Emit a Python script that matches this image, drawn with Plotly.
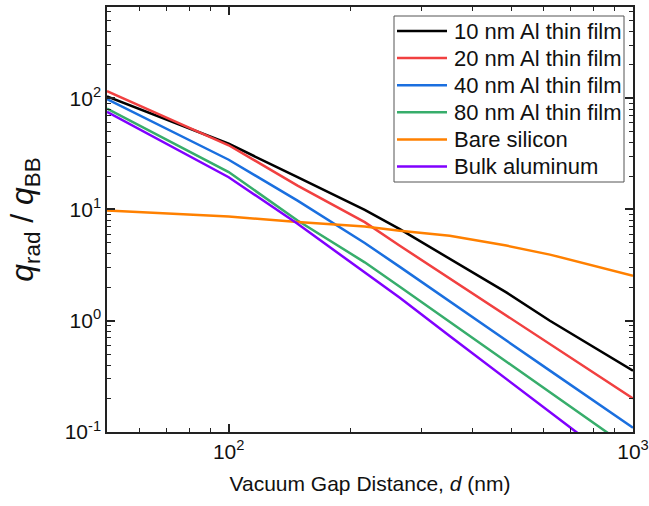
import plotly.graph_objects as go

gap_nm = [50, 100, 148, 217, 265, 352, 486, 623, 1000]

al_10nm = [104, 39.0, 19.5, 9.9, 6.65, 3.6, 1.8, 1.0, 0.355]
al_20nm = [116, 37.8, 16.4, 7.7, 4.72, 2.40, 1.12, 0.617, 0.20]
al_40nm = [98, 28.0, 12.0, 5.0, 3.05, 1.49, 0.67, 0.356, 0.109]
al_80nm = [80.7, 21.7, 7.96, 3.35, 2.02, 0.978, 0.43, 0.228, 0.068]
bare_si = [9.8, 8.65, 7.7, 7.03, 6.45, 5.8, 4.74, 3.93, 2.54]
bulk_al = [75.4, 19.5, 7.43, 2.72, 1.61, 0.73, 0.30, 0.151, 0.041]

series_names = ["10 nm Al thin film", "20 nm Al thin film", "40 nm Al thin film",
                "80 nm Al thin film", "Bare silicon", "Bulk aluminum"]
series_vals = [al_10nm, al_20nm, al_40nm, al_80nm, bare_si, bulk_al]
colors = ["#000000", "#F14040", "#1A6FDF", "#37AD6B", "#FF8000", "#8000FF"]

y_tickvals = [0.1, 1, 10, 100]
y_ticktext = ["10<sup>-1</sup>", "10<sup>0</sup>", "10<sup>1</sup>", "10<sup>2</sup>"]
x_tickvals = [100, 1000]
x_ticktext = ["10<sup>2</sup>", "10<sup>3</sup>"]

x_minor = [60, 70, 80, 90] + [m * 100 for m in range(2, 10)]
y_minor = ([round(m * 0.1, 1) for m in range(2, 10)] + list(range(2, 10))
           + [m * 10 for m in range(2, 10)] + [200, 300, 400, 500, 600])

X_RANGE = [1.69897, 3]
Y_RANGE = [-1, 2.82]

# figure geometry (pixels)
W, H = 649, 506
ML, MR, MT, MB = 107, 16, 7, 74
PW, PH = W - ML - MR, H - MT - MB


def px_x(p):
    return (p - ML) / PW


def px_y(p):
    return (H - MB - p) / PH


fig = go.Figure()
for name, vals, col in zip(series_names, series_vals, colors):
    fig.add_trace(go.Scatter(x=gap_nm, y=vals, mode="lines", name=name,
                             line=dict(color=col, width=2.5), showlegend=False))

# invisible trace binding the minor-tick overlay axes
fig.add_trace(go.Scatter(x=[100], y=[1], xaxis="x2", yaxis="y2", mode="markers",
                         marker=dict(opacity=0), showlegend=False, hoverinfo="skip"))

FONT = "Arial, Liberation Sans, sans-serif"
axis_common = dict(
    showline=True, linecolor="#222", linewidth=1.5, mirror="ticks",
    ticks="inside", ticklen=8, tickwidth=1.5, tickcolor="#222",
    showgrid=False, zeroline=False,
    tickfont=dict(family=FONT, size=21, color="#111"),
)
minor_common = dict(
    showticklabels=False, ticks="inside", ticklen=4.5, tickwidth=1.3, tickcolor="#222",
    showline=True, linecolor="#222", linewidth=1.5, mirror="ticks",
    showgrid=False, zeroline=False,
)

# manual legend (box, line samples, labels)
LEG_L, LEG_R, LEG_T, LEG_B = 394, 624, 16, 182
ROW0, ROW_STEP = 31, 27.1
shapes = [dict(type="rect", xref="paper", yref="paper",
               x0=px_x(LEG_L), x1=px_x(LEG_R), y0=px_y(LEG_B), y1=px_y(LEG_T),
               line=dict(color="#555", width=1), fillcolor="white", layer="above")]
annotations = []
for i, (name, col) in enumerate(zip(series_names, colors)):
    yy = px_y(ROW0 + i * ROW_STEP)
    shapes.append(dict(type="line", xref="paper", yref="paper",
                       x0=px_x(397), x1=px_x(447), y0=yy, y1=yy,
                       line=dict(color=col, width=2.5), layer="above"))
    annotations.append(dict(text=name, xref="paper", yref="paper", x=px_x(452), y=yy,
                            xanchor="left", yanchor="middle", showarrow=False,
                            font=dict(family=FONT, size=22, color="#111")))

fig.update_layout(
    xaxis=dict(type="log", range=X_RANGE,
               tickmode="array", tickvals=x_tickvals, ticktext=x_ticktext,
               title=dict(text="Vacuum Gap Distance, <i>d</i> (nm)",
                          font=dict(family=FONT, size=21, color="#111"), standoff=14),
               **axis_common),
    yaxis=dict(type="log", range=Y_RANGE,
               tickmode="array", tickvals=y_tickvals, ticktext=y_ticktext,
               title=dict(text="<i>q</i><sub>rad</sub> / <i>q</i><sub>BB</sub>",
                          font=dict(family=FONT, size=32, color="#111"), standoff=21),
               **axis_common),
    xaxis2=dict(type="log", range=X_RANGE, overlaying="x", anchor="y2", side="bottom",
                tickmode="array", tickvals=x_minor, **minor_common),
    yaxis2=dict(type="log", range=Y_RANGE, overlaying="y", anchor="x2", side="left",
                tickmode="array", tickvals=y_minor, **minor_common),
    width=W, height=H,
    margin=dict(l=ML, r=MR, t=MT, b=MB, autoexpand=False),
    plot_bgcolor="white", paper_bgcolor="white",
    font=dict(family=FONT, color="#111"),
    shapes=shapes,
    annotations=annotations,
    showlegend=False,
)

fig.write_html("out.html")
